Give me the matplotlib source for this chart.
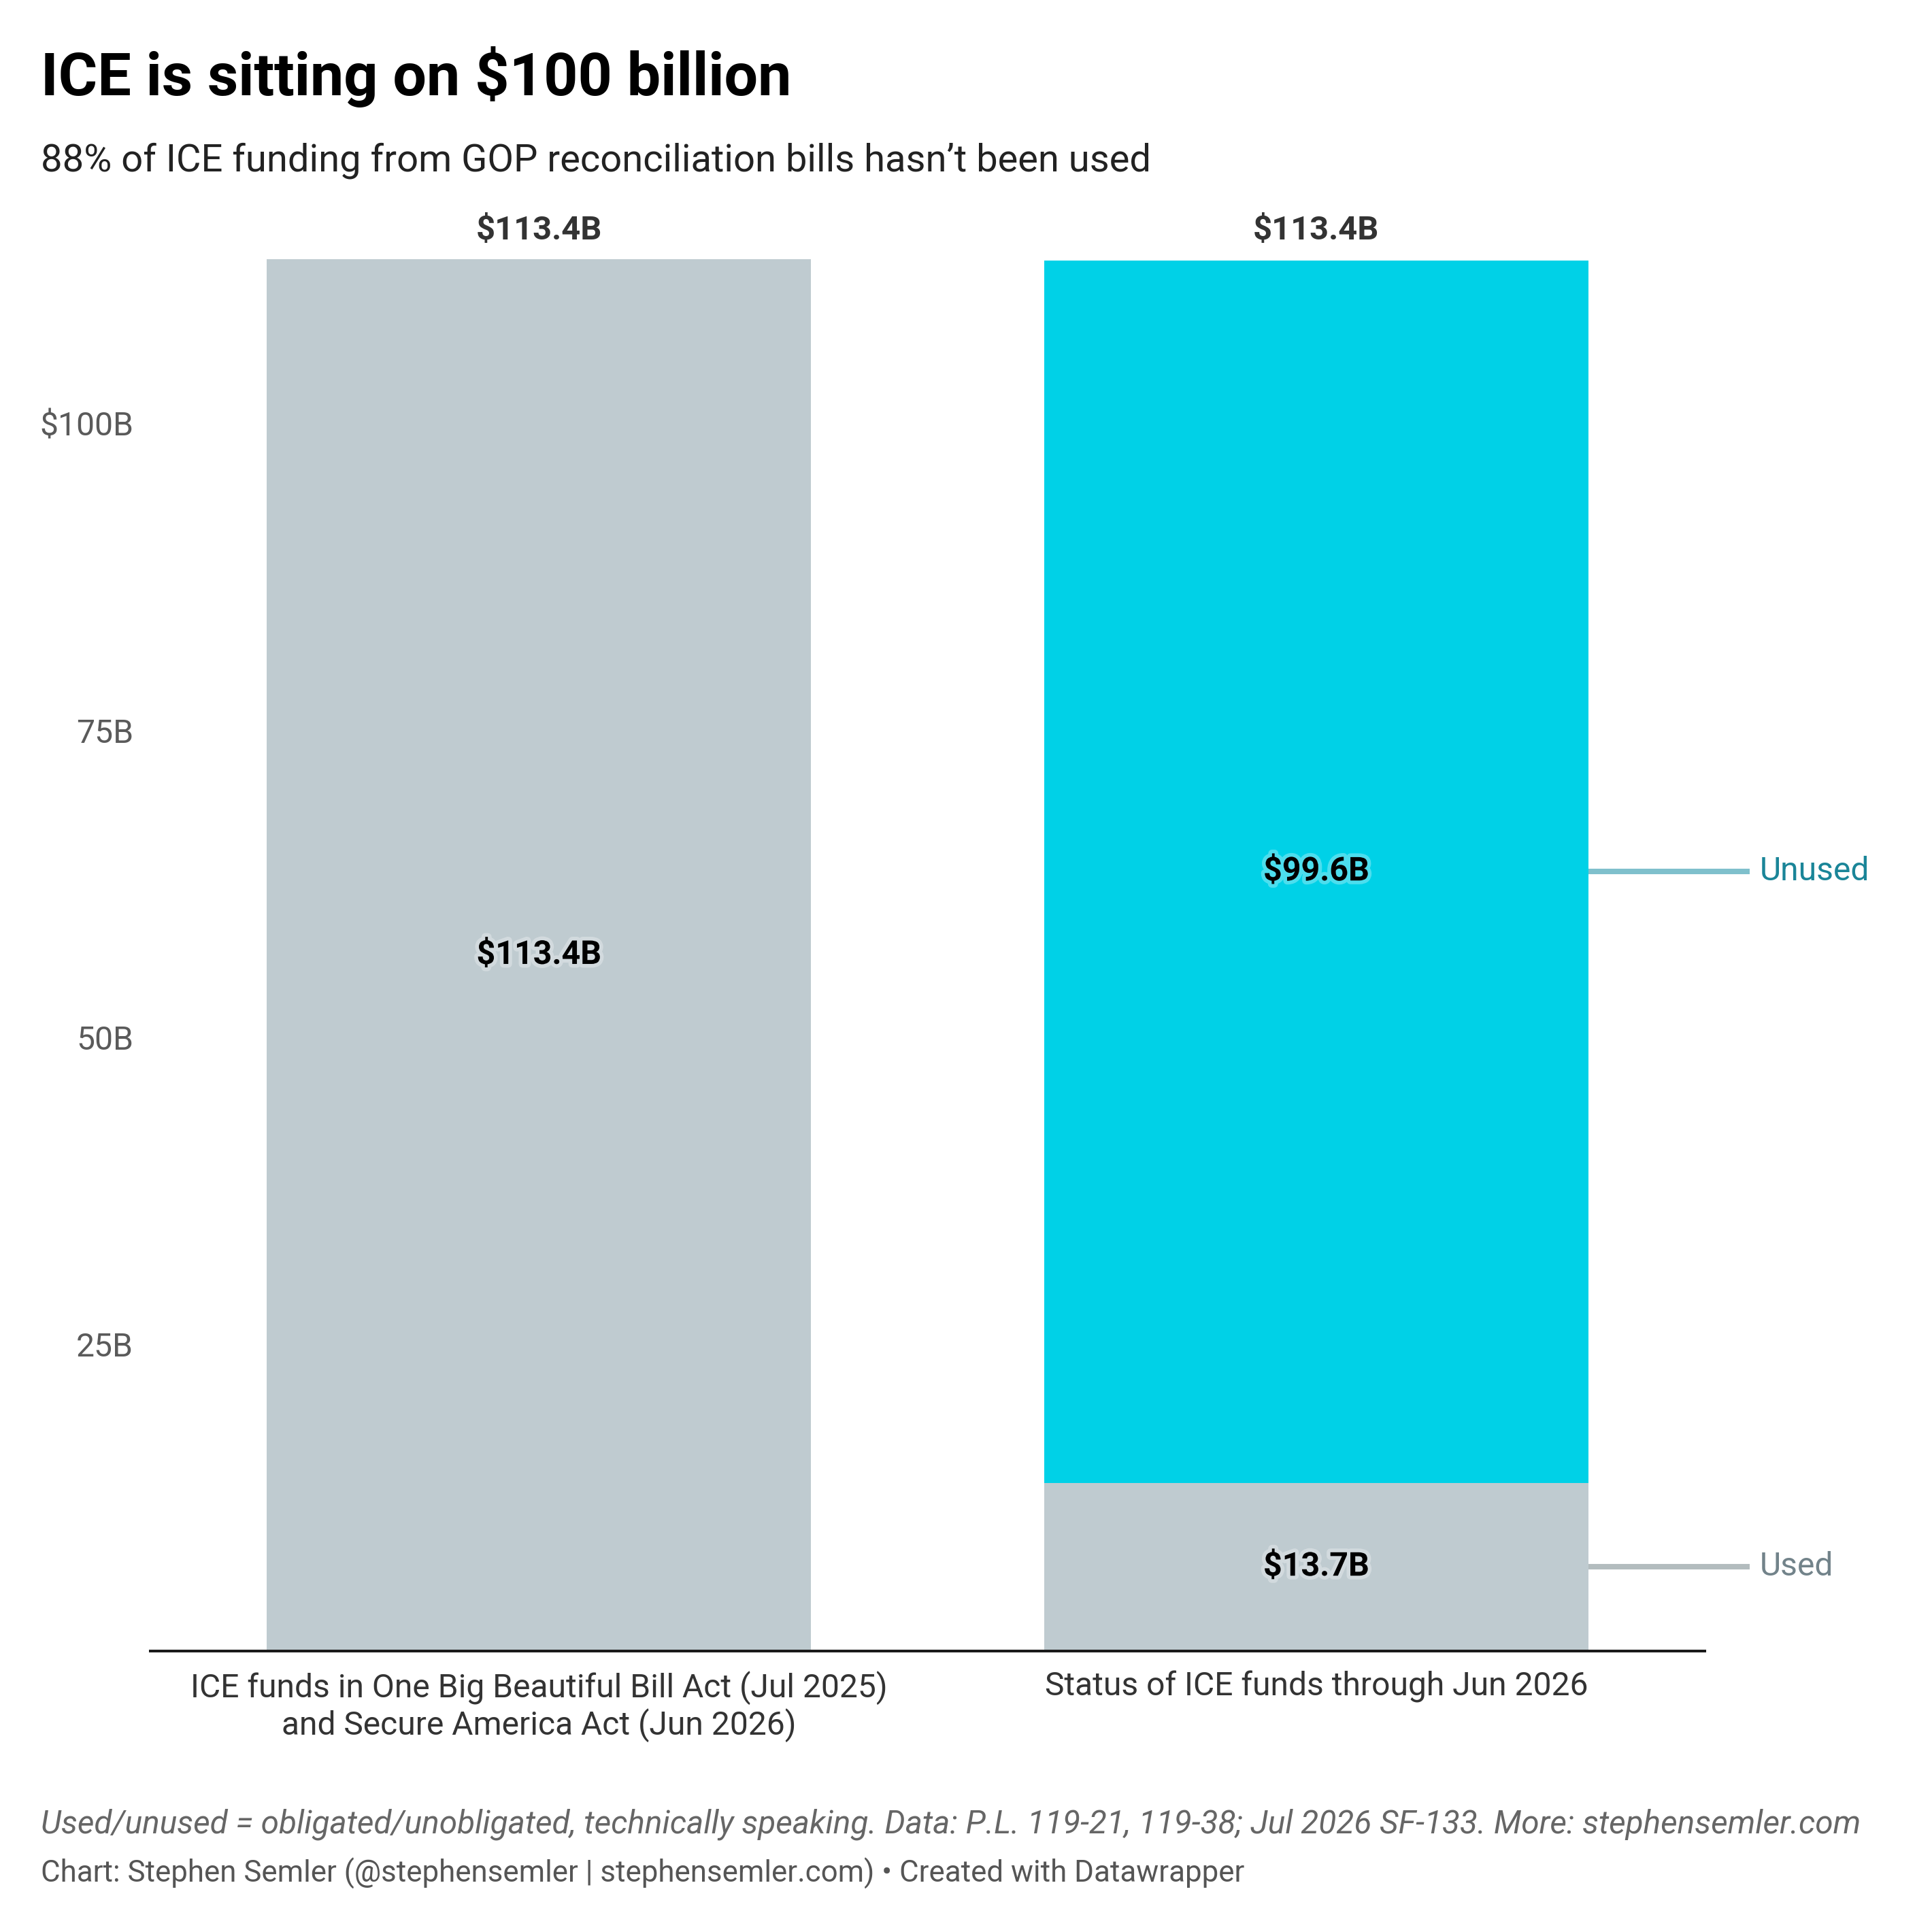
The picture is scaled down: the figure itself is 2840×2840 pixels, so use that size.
import matplotlib
matplotlib.use('Agg')
from matplotlib import pyplot as plt
import matplotlib.patheffects as pe

plt.rcParams['font.family'] = ['Roboto', 'DejaVu Sans']

# data
categories = ['ICE funds in One Big Beautiful Bill Act (Jul 2025)\nand Secure America Act (Jun 2026)',
              'Status of ICE funds through Jun 2026']
totals = [113.4, 113.4]
status_names = ['Used', 'Unused']
status_values = [13.7, 99.6]
yticks = [25, 50, 75, 100]
ytick_labels = ['25B', '50B', '75B', '$100B']

gray = '#bfcbd0'
cyan = '#00d1e7'
line_cols = ['#b3bcbe', '#7fc0cc']
text_cols = ['#72838a', '#1a8598']

fig = plt.figure(figsize=(14.2, 14.2), dpi=200)
ax = fig.add_axes([0.0778, 0.1455, 0.8046, 0.7203])

x = [0, 1]
w = 0.7
halo = [pe.withStroke(linewidth=4, foreground='white', alpha=0.3)]

# left bar: full amount
ax.bar(x[0], totals[0], width=w, color=gray)
ax.text(x[0], totals[0] / 2, '$%.1fB' % totals[0], ha='center', va='center',
        fontsize=17.4, fontweight='bold', color='black', path_effects=halo)

# right bar: used + unused
bottom = 0
seg_cols = [gray, cyan]
for name, val, c, lc, tc in zip(status_names, status_values, seg_cols, line_cols, text_cols):
    ax.bar(x[1], val, width=w, bottom=bottom, color=c)
    mid = bottom + val / 2
    ax.text(x[1], mid, '$%.1fB' % val, ha='center', va='center',
            fontsize=17.4, fontweight='bold', color='black', path_effects=halo)
    ax.plot([x[1] + w / 2, 1.558], [mid, mid], color=lc, lw=2.9, clip_on=False,
            solid_capstyle='butt')
    ax.text(1.571, mid, name, ha='left', va='center', fontsize=17.3, color=tc)
    bottom += val

# totals above bars
for xi, t in zip(x, totals):
    ax.annotate('$%.1fB' % t, (xi, t), xytext=(0, 10.4), textcoords='offset points',
                ha='center', va='baseline', fontsize=17.6, fontweight='bold', color='#333333')

ax.set_xlim(-0.5, 1.5)
ax.set_ylim(0, 113.4)
ax.set_yticks(yticks)
ax.set_yticklabels(ytick_labels)
ax.set_xticks(x)
ax.set_xticklabels(categories, linespacing=1.15)
ax.tick_params(axis='y', length=0, pad=9, labelsize=17.3, labelcolor='#5a5a5a')
ax.tick_params(axis='x', length=0, pad=10.5, labelsize=17.3, labelcolor='#333333')
for s in ['top', 'right', 'left']:
    ax.spines[s].set_visible(False)
ax.spines['bottom'].set_color('#1a1a1a')
ax.spines['bottom'].set_linewidth(1.45)

fig.text(0.0211, 0.9507, 'ICE is sitting on $100 billion', fontsize=31.7, fontweight='bold',
         color='black', va='baseline')
fig.text(0.0211, 0.9116, '88% of ICE funding from GOP reconciliation bills hasn\u2019t been used',
         fontsize=20.2, color='#222222', va='baseline')
fig.text(0.0211, 0.0511, 'Used/unused = obligated/unobligated, technically speaking. Data: P.L. 119-21, 119-38; '
         'Jul 2026 SF-133. More: stephensemler.com', fontsize=17.2, style='italic',
         color='#666666', va='baseline')
fig.text(0.0211, 0.0257, 'Chart: Stephen Semler (@stephensemler | stephensemler.com) \u2022 Created with Datawrapper',
         fontsize=15.8, color='#555555', va='baseline')

fig.savefig('out.png', dpi=200, facecolor='white')
